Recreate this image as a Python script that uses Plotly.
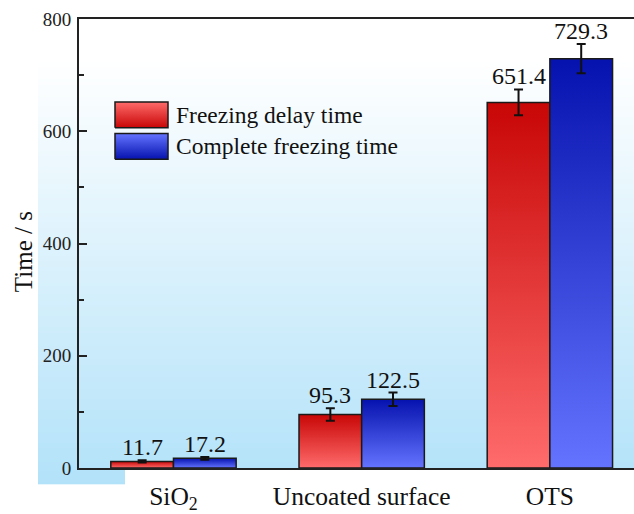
import base64
import struct
import zlib

import plotly.graph_objects as go

# ---------------- data ----------------
categories = ["SiO<sub>2</sub>", "Uncoated surface", "OTS"]
series_names = ["Freezing delay time", "Complete freezing time"]
delay_values = [11.7, 95.3, 651.4]
complete_values = [17.2, 122.5, 729.3]
delay_errors = [2, 11, 23]
complete_errors = [2.5, 12, 26]
y_tick_values = [0, 200, 400, 600, 800]
y_title = "Time / s"

# ---------------- styles ----------------
FONT = "Liberation Serif"
RED_SCALE = [[0, "#ff6b6b"], [1, "#c80606"]]
BLUE_SCALE = [[0, "#6474ff"], [1, "#0612ae"]]
EDGE = "#1a1a1a"
BAR_W = 0.333

# plot area in pixels
L, R, T, B = 79, 0, 19, 40.5
W, H = 634, 514
PW, PH = W - L - R, H - T - B


def px_to_paper_x(px):
    return (px - L) / PW


def px_to_paper_y(py):
    return (H - B - py) / PH


# background gradient png (decoration)
def make_png(rows_rgb):
    raw = b"".join(b"\x00" + bytes(rgb) for rgb in rows_rgb)

    def chunk(t, d):
        return struct.pack(">I", len(d)) + t + d + struct.pack(">I", zlib.crc32(t + d) & 0xFFFFFFFF)

    ihdr = struct.pack(">IIBBBBB", 1, len(rows_rgb), 8, 2, 0, 0, 0)
    return b"\x89PNG\r\n\x1a\n" + chunk(b"IHDR", ihdr) + chunk(b"IDAT", zlib.compress(raw)) + chunk(b"IEND", b"")


bg_bottom = 490
rows = []
end = (178, 226, 249)
for yy in range(bg_bottom):
    t = 0 if yy < 60 else (yy - 60) / (bg_bottom - 60)
    rows.append(tuple(int(round(255 * (1 - t) + c * t)) for c in end))
bg_uri = "data:image/png;base64," + base64.b64encode(make_png(rows)).decode()

fig = go.Figure()

# bars as gradient-filled polygons through the data axes
for values, scale, offset in [
    (delay_values, RED_SCALE, -BAR_W / 2),
    (complete_values, BLUE_SCALE, BAR_W / 2),
]:
    for i, v in enumerate(values):
        c = i + offset
        x0, x1 = c - BAR_W / 2, c + BAR_W / 2
        fig.add_trace(
            go.Scatter(
                x=[x0, x0, x1, x1, x0],
                y=[0, v, v, 0, 0],
                mode="lines",
                fill="toself",
                fillgradient=dict(type="vertical", colorscale=scale),
                line=dict(color=EDGE, width=1.5),
                showlegend=False,
                hoverinfo="skip",
            )
        )

# error bars and value labels
for values, errs, offset in [
    (delay_values, delay_errors, -BAR_W / 2),
    (complete_values, complete_errors, BAR_W / 2),
]:
    fig.add_trace(
        go.Scatter(
            x=[i + offset for i in range(len(values))],
            y=values,
            mode="markers",
            marker=dict(size=1, color="rgba(0,0,0,0)"),
            error_y=dict(type="data", array=errs, visible=True, color="#111111", thickness=2, width=4.5),
            showlegend=False,
        )
    )
    for i, (v, e) in enumerate(zip(values, errs)):
        fig.add_annotation(
            x=i + offset,
            y=v + e,
            xref="x",
            yref="y",
            text=f"{v:.1f}",
            showarrow=False,
            yanchor="bottom",
            yshift=-2,
            font=dict(family=FONT, size=24, color="#111111"),
        )

# manual legend on an overlay pixel axis
legend_items = [
    (series_names[0], RED_SCALE, 103, 129),
    (series_names[1], BLUE_SCALE, 135, 161),
]
for name, scale, ytop, ybot in legend_items:
    fig.add_trace(
        go.Scatter(
            x=[115, 115, 168, 168, 115],
            y=[ybot, ytop, ytop, ybot, ybot],
            xaxis="x2",
            yaxis="y2",
            mode="lines",
            fill="toself",
            fillgradient=dict(type="vertical", colorscale=[[0, scale[1][1]], [1, scale[0][1]]]),
            line=dict(color=EDGE, width=1.5),
            showlegend=False,
            hoverinfo="skip",
        )
    )
    fig.add_annotation(
        x=174,
        y=(ytop + ybot) / 2,
        xref="x2",
        yref="y2",
        text=name,
        showarrow=False,
        xanchor="left",
        yanchor="middle",
        font=dict(family=FONT, size=23.5, color="#111111"),
    )

# y axis title
fig.add_annotation(
    x=px_to_paper_x(23),
    y=px_to_paper_y(255),
    xref="paper",
    yref="paper",
    text=y_title,
    textangle=-90,
    showarrow=False,
    xanchor="center",
    yanchor="middle",
    font=dict(family=FONT, size=25, color="#111111"),
)

fig.add_layout_image(
    dict(
        source=bg_uri,
        xref="paper",
        yref="paper",
        x=px_to_paper_x(38),
        y=px_to_paper_y(0),
        sizex=(634 - 38) / PW,
        sizey=bg_bottom / PH,
        xanchor="left",
        yanchor="top",
        sizing="stretch",
        layer="below",
    )
)
fig.add_shape(
    type="rect",
    xref="paper",
    yref="paper",
    x0=px_to_paper_x(125),
    x1=px_to_paper_x(640),
    y0=px_to_paper_y(514),
    y1=px_to_paper_y(475),
    fillcolor="white",
    line=dict(width=0),
    layer="below",
)

fig.update_layout(
    width=W,
    height=H,
    margin=dict(l=L, r=R, t=T, b=B, pad=0),
    paper_bgcolor="white",
    plot_bgcolor="rgba(0,0,0,0)",
    font=dict(family=FONT, color="#222222"),
    showlegend=False,
    xaxis=dict(
        range=[-0.502, 2.447],
        tickmode="array",
        tickvals=list(range(len(categories))),
        ticktext=categories,
        ticks="",
        showgrid=False,
        zeroline=False,
        showline=True,
        linecolor="#222222",
        linewidth=2,
        mirror=True,
        tickfont=dict(family=FONT, size=25.5, color="#111111"),
        ticklabelstandoff=4,
        fixedrange=True,
    ),
    yaxis=dict(
        range=[0, 800],
        tickmode="array",
        tickvals=y_tick_values,
        ticks="inside",
        ticklen=8,
        tickwidth=2,
        tickcolor="#222222",
        minor=dict(dtick=100, ticks="inside", ticklen=5, tickwidth=1.5, tickcolor="#222222", showgrid=False),
        showgrid=False,
        zeroline=False,
        showline=True,
        linecolor="#222222",
        linewidth=2,
        mirror=False,
        tickfont=dict(family=FONT, size=19, color="#222222"),
        ticklabelstandoff=2,
        fixedrange=True,
    ),
    xaxis2=dict(range=[L, W], overlaying="x", visible=False, fixedrange=True),
    yaxis2=dict(range=[H - B, T], overlaying="y", visible=False, fixedrange=True),
)

fig.write_html("out.html")
